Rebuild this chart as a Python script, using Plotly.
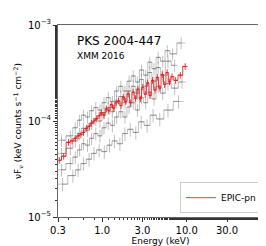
import plotly.graph_objects as go

# ---- data ----
red_E = [0.31, 0.35, 0.40, 0.44, 0.48, 0.52, 0.56, 0.60, 0.65, 0.70, 0.75, 0.80, 0.86, 0.92, 0.98,
         1.05, 1.12, 1.20, 1.28, 1.37, 1.46, 1.56, 1.67, 1.78, 1.90, 2.03, 2.17, 2.32, 2.48, 2.65,
         2.83, 3.02, 3.23, 3.45, 3.69, 3.94, 4.21, 4.50, 4.81, 5.14, 5.49, 5.87, 6.27, 6.70, 7.40,
         8.40, 9.60]
red_F = [0.39, 0.43, 0.60, 0.62, 0.66, 0.70, 0.72, 0.76, 0.84, 0.88, 0.95, 1.00, 1.06, 1.14, 1.22,
         1.15, 1.34, 1.28, 1.48, 1.36, 1.55, 1.62, 1.45, 1.78, 1.60, 1.92, 1.55, 2.00, 1.72, 2.15,
         1.70, 2.25, 1.90, 2.50, 1.85, 2.65, 2.10, 2.85, 2.20, 3.05, 2.40, 3.20, 2.55, 2.90, 2.65,
         3.00, 3.70]

g1_E = [0.33, 0.42, 0.48, 0.54, 0.60, 0.67, 0.75, 0.84, 0.94, 1.05, 1.18, 1.32, 1.48, 1.66,
        1.86, 2.08, 2.33, 2.61, 2.92, 3.27, 3.66, 4.10, 4.60, 5.20, 5.90, 6.80, 8.60]
g1_F = [0.63, 0.70, 0.85, 1.02, 1.15, 1.10, 1.28, 1.38, 1.30, 1.55, 1.75, 1.60, 2.05, 2.30,
        2.05, 2.60, 2.95, 2.55, 3.40, 3.00, 4.10, 3.50, 4.60, 4.20, 5.40, 5.00, 6.50]

g2_E = [0.33, 0.42, 0.48, 0.54, 0.60, 0.67, 0.75, 0.84, 0.94, 1.05, 1.18, 1.32, 1.48, 1.66,
        1.86, 2.08, 2.33, 2.61, 2.92, 3.27, 3.66, 4.10, 4.60, 5.20, 6.00, 7.20, 8.80]
g2_F = [0.31, 0.36, 0.42, 0.50, 0.58, 0.56, 0.66, 0.74, 0.70, 0.85, 0.95, 0.90, 1.10, 1.25,
        1.10, 1.40, 1.55, 1.30, 1.75, 1.55, 2.00, 1.70, 2.30, 1.95, 2.45, 2.20, 2.55]

g3_E = [0.34, 0.45, 0.52, 0.60, 0.70, 0.80, 0.92, 1.06, 1.22, 1.40, 1.62, 1.86, 2.15, 2.50,
        2.90, 3.40, 4.00, 4.80, 6.00, 8.00]
g3_F = [0.22, 0.27, 0.31, 0.36, 0.40, 0.46, 0.50, 0.48, 0.56, 0.62, 0.58, 0.74, 0.82, 0.76,
        0.98, 0.90, 1.15, 1.05, 1.30, 1.60]

g4_E = [0.33, 0.42, 0.48, 0.54, 0.60, 0.67, 0.75, 0.84, 0.94, 1.05, 1.18, 1.32, 1.48, 1.66,
        1.86, 2.08, 2.33, 2.61, 2.92, 3.27, 3.66, 4.10, 4.60, 5.20, 6.00, 7.20]
g4_F = [0.46, 0.52, 0.62, 0.74, 0.84, 0.80, 0.95, 1.05, 1.00, 1.22, 1.38, 1.25, 1.60, 1.80,
        1.55, 2.05, 2.30, 1.95, 2.70, 2.30, 3.20, 2.60, 3.60, 3.00, 4.20, 3.80]

x_ticks = [0.3, 1.0, 3.0, 10.0, 30.0]
x_tick_text = ["0.3", "1.0", "3.0", "10.0", "30.0"]
y_ticks = [1e-5, 1e-4, 1e-3]
y_tick_text = ["10<sup>−5</sup>", "10<sup>−4</sup>", "10<sup>−3</sup>"]

SCALE = 1e-4


def bins(E):
    lo, hi = [], []
    for i, e in enumerate(E):
        left = (E[i - 1] * e) ** 0.5 if i > 0 else e * (e / E[1]) ** 0.5
        right = (E[i + 1] * e) ** 0.5 if i < len(E) - 1 else e * (e / E[-2]) ** 0.5
        lo.append(e - left)
        hi.append(right - e)
    return lo, hi


def trace(E, F, color, err_frac, name=None, show=False, width=1.0):
    lo, hi = bins(E)
    y = [f * SCALE for f in F]
    return go.Scatter(
        x=E, y=y, mode="lines", line=dict(color=color, width=width, shape="hvh"),
        error_x=dict(type="data", symmetric=False, array=hi, arrayminus=lo,
                     color=color, thickness=1, width=0),
        error_y=dict(type="data", array=[v * err_frac for v in y],
                     color=color, thickness=1, width=0),
        name=name, showlegend=show,
    )


fig = go.Figure()
gray = "rgba(60,60,60,0.32)"
fig.add_trace(trace(g3_E, g3_F, gray, 0.16))
fig.add_trace(trace(g2_E, g2_F, gray, 0.15))
fig.add_trace(trace(g4_E, g4_F, gray, 0.15))
fig.add_trace(trace(g1_E, g1_F, gray, 0.14))
fig.add_trace(trace(red_E, red_F, "rgba(220,30,30,0.85)", 0.08, name="EPIC-pn", show=True))

axis_common = dict(
    type="log", showgrid=False, zeroline=False, showline=True, mirror=True,
    linecolor="#666666", linewidth=1, ticks="outside", ticklen=4, tickcolor="#333333",
    tickfont=dict(family="DejaVu Sans", size=10, color="black"),
    minor=dict(ticks="outside", ticklen=2, tickcolor="#333333", showgrid=False),
)

fig.update_layout(
    width=266, height=246,
    margin=dict(l=50, r=10, t=10, b=34),
    paper_bgcolor="white", plot_bgcolor="white",
    xaxis=dict(axis_common, range=[-0.5229, 1.903], tickvals=x_ticks, ticktext=x_tick_text,
               title=dict(text="Energy (keV)", font=dict(family="DejaVu Sans", size=9, color="black"),
                          standoff=2)),
    yaxis=dict(axis_common, range=[-5, -3], tickvals=y_ticks, ticktext=y_tick_text,
               title=dict(text="νF<sub>ν</sub> (keV counts s<sup>−1</sup> cm<sup>−2</sup>)",
                          font=dict(family="DejaVu Sans", size=9, color="black"), standoff=4)),
    legend=dict(x=0.995, y=0.02, xanchor="right", yanchor="bottom",
                bordercolor="#cccccc", borderwidth=1, bgcolor="white",
                font=dict(family="DejaVu Sans", size=9, color="black")),
    annotations=[
        dict(text="PKS 2004-447", x=0.085, y=0.915, xref="paper", yref="paper",
             xanchor="left", yanchor="middle", showarrow=False,
             font=dict(family="DejaVu Sans", size=12, color="black")),
        dict(text="XMM 2016", x=0.085, y=0.84, xref="paper", yref="paper",
             xanchor="left", yanchor="middle", showarrow=False,
             font=dict(family="DejaVu Sans", size=9, color="black")),
    ],
)

fig.write_html("out.html")
